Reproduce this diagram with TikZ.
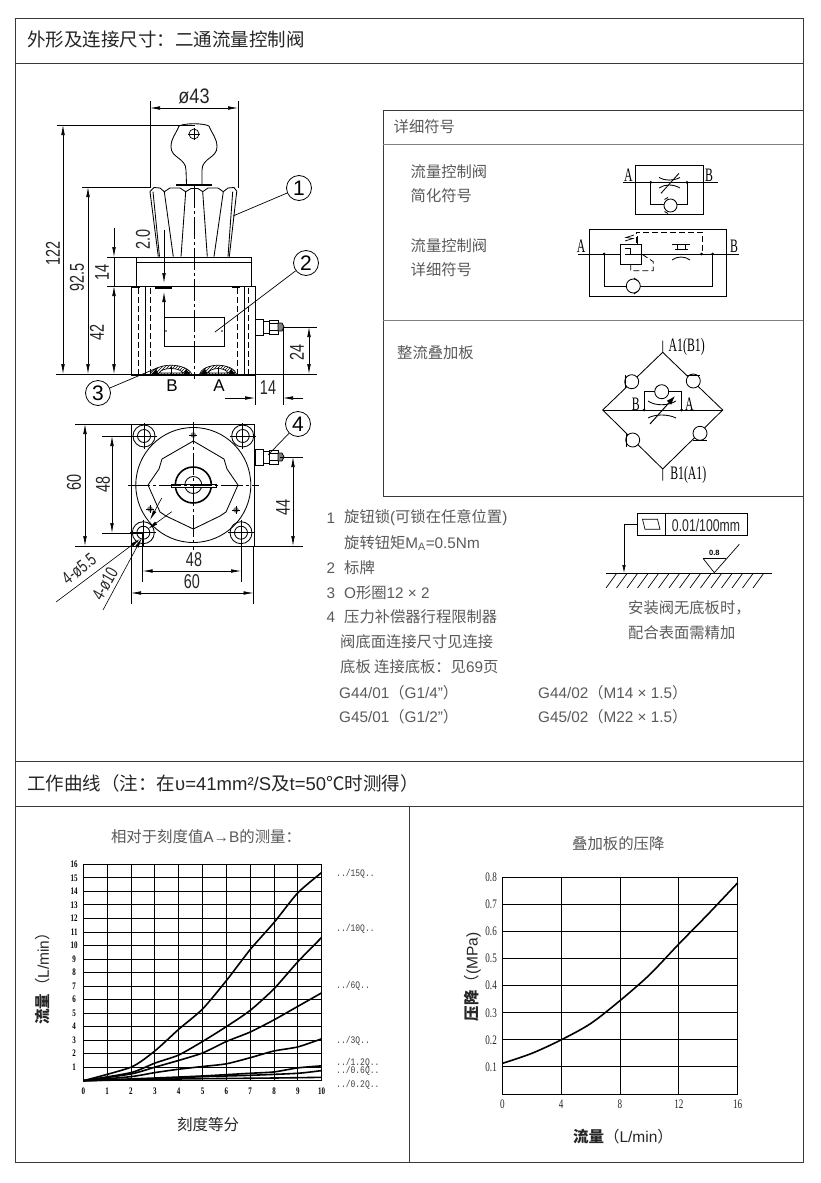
\documentclass[tikz,border=0pt]{standalone}
\usepackage{fontspec}
\setmainfont{Liberation Sans}
\newfontfamily\cjk{Noto Sans CJK SC}
\newfontfamily\dimfont[FakeStretch=0.72]{Liberation Sans}
\newfontfamily\widedimfont[FakeStretch=0.86]{Liberation Sans}
\newfontfamily\symfont[FakeStretch=0.62]{Liberation Serif}
\newfontfamily\tickfont[FakeStretch=0.7]{Liberation Serif}
\newfontfamily\curvefont[FakeStretch=0.8]{Liberation Mono}
\usetikzlibrary{arrows.meta,patterns}
\definecolor{framegray}{HTML}{3A3A3A}
\definecolor{notegray}{HTML}{5A5A5A}
\tikzset{
  frameline/.style={draw=framegray,line width=0.9pt},
  thinline/.style={line width=0.7pt},
  drawline/.style={line width=0.85pt},
  dimline/.style={line width=0.6pt,{Latex[length=10pt,width=3.6pt]}-{Latex[length=10pt,width=3.6pt]}},
  dimtip/.style={line width=0.6pt,-{Latex[length=10pt,width=3.6pt]}},
  extline/.style={line width=0.6pt},
  centerline/.style={line width=0.6pt,dash pattern=on 22pt off 3pt on 3pt off 3pt},
  hiddenline/.style={line width=0.8pt,dash pattern=on 6pt off 3pt},
  dimtext/.style={inner sep=0pt,text=black!85,font=\dimfont\fontsize{20}{20}\selectfont},
  balloon/.style={draw,circle,line width=0.8pt,minimum size=25pt,inner sep=0pt,fill=white,font=\fontsize{21}{21}\selectfont},
  headtext/.style={anchor=west,inner sep=0pt,text=black!85,font=\fontsize{18.5}{18.5}\selectfont},
  notetext/.style={anchor=west,inner sep=0pt,text=notegray,font=\fontsize{15.3}{15.3}\selectfont},
  titletext/.style={inner sep=0pt,text=notegray,font=\fontsize{15.4}{15.4}\selectfont},
  axistext/.style={inner sep=0pt,text=black!85,font=\fontsize{15.5}{15.5}\selectfont},
  symtext/.style={inner sep=0pt,font=\symfont\fontsize{19}{19}\selectfont},
  ticktext/.style={inner sep=0pt,font=\tickfont\bfseries\fontsize{10}{10}\selectfont},
  wideticktext/.style={inner sep=0pt,text=black!85,font=\tickfont\fontsize{13}{13}\selectfont},
  curvetext/.style={anchor=west,inner sep=0pt,text=black!75,font=\curvefont\fontsize{10}{10}\selectfont},
  checkv/.style={draw,circle,line width=0.85pt,fill=white,minimum size=14pt,inner sep=0pt},
  junction/.style={fill,circle,minimum size=3pt,inner sep=0pt},
  gridline/.style={line width=0.95pt},
  curveline/.style={line width=1.6pt}
}
\begin{document}
\begin{tikzpicture}[x=1pt,y=-1pt]
\useasboundingbox (0,0) rectangle (820,1183);
\fill[white] (0,0) rectangle (820,1183);

% page frame
\draw[frameline] (15,18) rectangle (803,1162);
\draw[frameline] (15,63) -- (803,63);
\draw[frameline] (15,761) -- (803,761);
\draw[frameline] (15,806) -- (803,806);
\draw[frameline] (409,806) -- (409,1162);
\draw[frameline] (383,110) rectangle (803.5,496);
\draw[frameline,draw=gray] (383,144) -- (803,144);
\draw[frameline,draw=gray] (383,320) -- (803,320);
\node[headtext] (head1) at (27,40) {\cjk 外形及连接尺寸：二通流量控制阀};
\node[headtext] (head2) at (27,783) {\cjk 工作曲线（注：在{\rmfamily υ=41mm²/S}及{\rmfamily t=50}℃时测得）};

% side view
\draw[drawline] (179,126) .. controls (176,134) and (171,138) .. (171,147) .. controls (171,158) and (186,158) .. (186,170) -- (186.5,184);
\draw[drawline] (202,184) -- (202,170) .. controls (202,158) and (217,158) .. (217,147) .. controls (217,138) and (212,134) .. (209,126);
\draw[drawline] (179,126) .. controls (185,123) and (203,123) .. (209,126);
\draw[thinline] (194,134) circle (5);
\draw[thinline] (188,134) -- (200,134) (194,128) -- (194,140);
\draw[line width=2pt] (176,184.8) -- (212,184.8);
\draw[drawline] (150,191.5) -- (154,187.5) -- (160,188) -- (164.3,191.7) -- (170,188) -- (180,188) -- (185.7,191.7) -- (191,188.5) -- (198,188.5) -- (202.7,191.7) -- (208,188) -- (218,188) -- (223.3,191.7) -- (228,188) -- (234,187.5) -- (237,191.5);
\draw[drawline] (150,191.7) -- (158.3,256.7);
\draw[drawline] (153,191.7) -- (159.5,256.7);
\draw[drawline] (164.3,191.7) -- (173.3,256.7);
\draw[drawline] (185.7,191.7) -- (181,256.7);
\draw[drawline] (202.7,191.7) -- (207.3,256.7);
\draw[drawline] (223.3,191.7) -- (214,256.7);
\draw[drawline] (236.7,191.7) -- (229.3,256.7);
\draw[drawline] (232.7,191.7) -- (228,256.7);
\draw[drawline] (136,257) rectangle (251,286);
\draw[thinline] (136,262) -- (251,262);
\draw[drawline] (131.7,286) rectangle (255,375);
\draw[drawline] (145,286) -- (145,375);
\draw[drawline] (244,286) -- (244,375);
\draw[hiddenline] (138.5,288) -- (138.5,375);
\draw[hiddenline] (150.7,288) -- (150.7,375);
\draw[hiddenline] (237,288) -- (237,375);
\draw[hiddenline] (248,288) -- (248,375);
\draw[line width=1.4pt] (132,287) -- (140,287) (155,288) -- (172,288) (232,287) -- (240,287);
\draw[drawline] (164,317.3) rectangle (224,346.7);
\fill (166,331) circle (0.9) (222,331) circle (0.9);
\draw[centerline] (194,186) -- (194,379);

% O-rings under the side view
\foreach \a/\b in {150/192,199/237}{
  \draw[thinline,pattern=north east lines] (\a,375) .. controls ({\a+4},362) and ({\b-4},362) .. (\b,375) -- cycle;
  \fill[white] ({\a+9},373) .. controls ({\a+12},367) and ({\b-12},367) .. ({\b-9},373) -- cycle;
  \draw[thinline] ({\a+9},373) .. controls ({\a+12},367) and ({\b-12},367) .. ({\b-9},373) -- cycle;
  \fill ({\a+1},375) -- ({\a+6},369) -- ({\a+9},375) -- cycle;
  \fill ({\b-1},375) -- ({\b-6},369) -- ({\b-9},375) -- cycle;
}
\draw[thinline] (171,367) -- (171,374) (218,367) -- (218,374);
\node[inner sep=0pt,font=\fontsize{17}{17}\selectfont] (portB) at (172,385.5) {B};
\node[inner sep=0pt,font=\fontsize{17}{17}\selectfont] (portA) at (219,385.5) {A};

% pressure compensator fitting, side and top view
\foreach \yy in {0,130}{
\begin{scope}[shift={(0,\yy)}]
\draw[drawline] (255,319) rectangle (263,335);
\draw[drawline] (263,321) -- (269,321) -- (269,333) -- (263,333);
\draw[drawline] (269,320) rectangle (278,334);
\draw[thinline] (269,323.5) -- (278,323.5) (269,330.5) -- (278,330.5);
\draw[drawline,fill=gray] (278,323) -- (282,323) -- (284,327) -- (282,331) -- (278,331) -- cycle;
\end{scope}
}

% dimensions of the side view
\draw[extline] (150,101) -- (150,188);
\draw[extline] (238,101) -- (238,188);
\draw[dimline] (150,108) -- (238,108);
\node[dimtext,font=\widedimfont\fontsize{21}{21}\selectfont] (dimD) at (194,96) {ø43};
\draw[extline] (57,125) -- (195,125);
\draw[extline] (82,187) -- (150,187);
\draw[extline] (56,374) -- (317,374);
\draw[dimline] (63,125) -- (63,374);
\node[dimtext,rotate=90] (dimA) at (53,253) {122};
\draw[dimline] (88,187) -- (88,374);
\node[dimtext,rotate=90] (dimB) at (77,277) {92.5};
\draw[extline] (107,257) -- (136,257);
\draw[extline] (107,286) -- (132,286);
\draw[dimtip] (114,228) -- (114,257);
\draw[dimline] (114,286) -- (114,374);
\draw[extline] (114,257) -- (114,286);
\node[dimtext,rotate=90] (dimC) at (102,272) {14};
\node[dimtext,rotate=90] (dimE) at (97,332) {42};
\draw[dimtip] (164,230) -- (164,283);
\draw[dimtip] (164,317) -- (164,292);
\node[dimtext,rotate=90] (dimF) at (143,239) {2.0};
\draw[extline] (283,327) -- (317,327);
\draw[dimline] (309,327) -- (309,374);
\node[dimtext,rotate=90] (dimG) at (297,352) {24};
\draw[extline] (255,375) -- (255,405);
\draw[extline] (283,327) -- (283,405);
\draw[dimtip] (225,398) -- (255,398);
\draw[dimtip] (303,398) -- (283,398);
\node[dimtext] (dimH) at (268,388) {14};

% top view
\draw[drawline] (131,424) rectangle (254,546);
\draw[drawline] (193.3,485) circle (57.5);
\draw[drawline] (193.3,441) -- (224,459) -- (227,469) -- (238,485) -- (226,512) -- (220,516) -- (193.3,529) -- (166,516) -- (160,512) -- (148,485) -- (159,469) -- (162,459) -- cycle;
\draw[line width=1.6pt] (193.3,485) circle (18);
\draw[drawline] (193.3,485) circle (8.5);
\draw[drawline,fill=white] (171,484) rectangle (216,487.5);
\draw[centerline] (128,485) -- (259,485);
\draw[centerline] (193.3,422) -- (193.3,550);
\foreach \bx/\by in {144/436,242.7/436,143.3/532.7,241/532.7}{
  \draw[drawline] (\bx,\by) circle (11);
  \draw[drawline] (\bx,\by) circle (6.5);
  \draw[thinline] ({\bx-13},\by) -- ({\bx+13},\by) (\bx,{\by-13}) -- (\bx,{\by+13});
}
\foreach \mx/\my in {193.3/435,150/509,236/510}{
  \fill[gray] (\mx,\my) circle (2.8);
  \draw[thinline] ({\mx-4},\my) -- ({\mx+4},\my) (\mx,{\my-4}) -- (\mx,{\my+4});
}

% dimensions of the top view
\draw[extline] (75,424) -- (131,424);
\draw[extline] (75,546) -- (303,546);
\draw[dimline] (85,424) -- (85,546);
\node[dimtext,rotate=90] (dimJ) at (74,482) {60};
\draw[extline] (102,436) -- (144,436);
\draw[extline] (102,533) -- (143,533);
\draw[dimline] (112,436) -- (112,533);
\node[dimtext,rotate=90] (dimK) at (103,484) {48};
\draw[extline] (142.7,533) -- (142.7,582);
\draw[extline] (241,533) -- (241,582);
\draw[dimline] (142.7,571) -- (241,571);
\node[dimtext] (dimL) at (194,560) {48};
\draw[extline] (131,546) -- (131,604);
\draw[extline] (253.5,546) -- (253.5,604);
\draw[dimline] (131,593) -- (253.5,593);
\node[dimtext] (dimM) at (192,582) {60};
\draw[extline] (280,457) -- (303,457);
\draw[dimline] (293,457) -- (293,546);
\node[dimtext,rotate=90] (dimN) at (283,507) {44};
\draw[dimtip] (56,602) -- (140,539);
\draw[dimtip] (171.7,511.7) -- (148,529);
\draw[dimtip] (103,610) -- (141.7,538);
\draw[dimtip] (161.7,498) -- (150,520);
\node[dimtext,rotate=38,font=\dimfont\fontsize{18}{18}\selectfont] (dimP) at (79,569) {4-ø5.5};
\node[dimtext,rotate=60,font=\dimfont\fontsize{18}{18}\selectfont] (dimQ) at (105,584) {4-ø10};

% position balloons
\coordinate (bal1end) at (233,216);
\coordinate (bal2end) at (215,332);
\coordinate (bal3end) at (157,368);
\coordinate (bal4end) at (268,455);
\node[balloon] (bal1) at (299,188) {1};
\node[balloon] (bal2) at (306,263) {2};
\node[balloon] (bal3) at (98,393) {3};
\node[balloon] (bal4) at (298,424) {4};
\draw[thinline] (bal1) -- (bal1end);
\draw[thinline] (bal2) -- (bal2end);
\draw[thinline] (bal3) -- (bal3end);
\draw[thinline] (bal4) -- (bal4end);

% symbols panel
\node[notetext] (symhead) at (393.5,127) {\cjk 详细符号};
\node[notetext] (symA) at (410.5,171.7) {\cjk 流量控制阀};
\node[notetext] (symB) at (410.5,195.7) {\cjk 简化符号};
\node[notetext] (symC) at (410.5,245.7) {\cjk 流量控制阀};
\node[notetext] (symD) at (410.5,270) {\cjk 详细符号};
\node[notetext] (symE) at (397,353) {\cjk 整流叠加板};

% simplified symbol
\draw[drawline] (635.7,165.7) rectangle (703.3,214);
\draw[drawline] (623.3,182.3) -- (717.7,182.3);
\draw[drawline] (650.7,182.3) -- (650.7,204.3) -- (664,204.3);
\draw[drawline] (687,182.3) -- (687,204.3) -- (677,204.3);
\node[checkv,minimum size=13pt] (chkA) at (670.5,205.5) {};
\draw[drawline] (668,197.5) -- (664.5,199.5) (668,213.5) -- (664.5,211.5);
\node[junction] (jA) at (650.7,182.3) {};
\node[junction] (jB) at (687,182.3) {};
\draw[drawline] (659,177.5) .. controls (665,181) and (673,181) .. (680,177.5);
\draw[drawline] (659,188) .. controls (665,184) and (673,184) .. (680,188);
\draw[drawline] (661,193.3) -- (679,173.3);
\node[symtext] (lblA) at (628.3,175.7) {A};
\node[symtext] (lblB) at (709,175.7) {B};

% detailed symbol
\draw[drawline] (589,229.3) rectangle (726,296);
\draw[drawline] (578,254) -- (739.3,254);
\draw[drawline] (604,254) -- (604,286) -- (626,286);
\draw[drawline] (712.7,254) -- (712.7,286) -- (640,286);
\node[checkv] (chkB) at (633.3,286) {};
\draw[drawline] (634,278) -- (638,281) (634,294) -- (638,291);
\draw[drawline,fill=white] (620.7,244.3) rectangle (641,264.3);
\draw[drawline] (625,248) -- (630.7,248) -- (630.7,254) (625,254) -- (641,254);
\draw[thinline] (625,241) -- (633,238.5) -- (626,237.5) -- (634,235);
\draw[thinline] (637,236) -- (637,244);
\draw[hiddenline] (636,243) -- (636,232.3) -- (702.3,232.3) -- (702.3,254);
\draw[hiddenline] (630.7,264.3) -- (630.7,270.7) -- (653.3,270.7) -- (653.3,261.7) -- (641.7,254);
\node[junction] (jC) at (604,254) {};
\node[junction] (jD) at (701.7,254) {};
\node[junction] (jE) at (712.7,254) {};
\draw[drawline] (672,244) -- (690,244);
\draw[drawline] (675,249.5) -- (688,249.5) (677,244) -- (677,249.5) (685,244) -- (685,249.5);
\draw[drawline] (672,260) .. controls (677,256) and (685,256) .. (690,260);
\node[symtext] (lblC) at (581,246.7) {A};
\node[symtext] (lblD) at (734,246.7) {B};

% rectifier plate symbol
\draw[drawline] (662.7,340.7) -- (662.7,352.3) -- (722.7,410) -- (662.7,469) -- (662.7,480.7);
\draw[drawline] (662.7,352.3) -- (602.7,410) -- (662.7,469);
\draw[drawline] (602.7,410) -- (722.7,410);
\node[checkv] (chkC) at (631.7,381.7) {};
\node[checkv] (chkD) at (693.3,381) {};
\node[checkv] (chkE) at (632.7,440) {};
\node[checkv] (chkF) at (700,433.3) {};
\draw[drawline] (625,375) -- (625,388) (687,375) -- (700,375) (626,433) -- (626,447) (693,440) -- (707,440);
\draw[drawline] (644,410) -- (644,391.7) -- (681.7,391.7) -- (681.7,410);
\node[checkv] (chkG) at (661.7,391.7) {};
\node[junction] (jF) at (644,410) {};
\node[junction] (jG) at (681.7,410) {};
\draw[drawline] (648,401) .. controls (655,406) and (668,406) .. (676,401);
\draw[drawline] (648,418) .. controls (655,414) and (668,414) .. (676,418);
\draw[line width=1pt,-{Latex[length=9pt,width=6pt]}] (650,424) -- (675,396);
\node[symtext] (lblE) at (686.7,347.3) {A1(B1)};
\node[symtext] (lblF) at (688.3,475) {B1(A1)};
\node[symtext] (lblG) at (635.7,404) {B};
\node[symtext] (lblH) at (689.3,404) {A};

% notes
\node[notetext] (note1a) at (326.5,518) {1};
\node[notetext] (note1b) at (344,518) {\cjk 旋钮锁{\rmfamily (}可锁在任意位置{\rmfamily )}};
\node[notetext] (note1c) at (344,543) {\cjk 旋转钮矩{\rmfamily M\textsubscript{A}=0.5Nm}};
\node[notetext] (note2a) at (326.5,568) {2};
\node[notetext] (note2b) at (344,568) {\cjk 标牌};
\node[notetext] (note3a) at (326.5,593) {3};
\node[notetext] (note3b) at (344,593) {O{\cjk 形圈}12 × 2};
\node[notetext] (note4a) at (326.5,617) {4};
\node[notetext] (note4b) at (344,617) {\cjk 压力补偿器行程限制器};
\node[notetext] (note5) at (340,642) {\cjk 阀底面连接尺寸见连接};
\node[notetext] (note6) at (340,667) {\cjk 底板\ 连接底板：见{\rmfamily 69}页};
\node[notetext] (note7) at (339,692.5) {G44/01{\cjk （}G1/4"{\cjk ）}};
\node[notetext] (note8) at (339,717) {G45/01{\cjk （}G1/2"{\cjk ）}};
\node[notetext] (note9) at (538,692.5) {G44/02{\cjk （}M14 × 1.5{\cjk ）}};
\node[notetext] (note10) at (538,717) {G45/02{\cjk （}M22 × 1.5{\cjk ）}};

% mounting surface
\draw[thinline] (637.3,513.3) rectangle (747.3,535);
\draw[thinline] (665,513.3) -- (665,535);
\draw[thinline] (645,529.3) -- (660,529.3) -- (657.5,519.3) -- (642.5,519.3) -- cycle;
\node[inner sep=0pt,text=black!85,font=\dimfont\fontsize{17}{17}\selectfont] (tolval) at (706,525) {0.01/100mm};
\draw[line width=0.7pt,-{Latex[length=8pt,width=3.5pt]}] (637.3,524) -- (624,524) -- (624,573);
\draw[thinline] (606,573.3) -- (771.7,573.3);
\foreach \hx in {606,616.5,...,760}{
  \draw[thinline] (\hx,588) -- ({\hx+10.7},573.3);
}
\draw[thinline] (703.3,558.7) -- (726,558.7);
\draw[thinline] (703.3,558.7) -- (714.3,572.7) -- (739.3,544.3);
\node[inner sep=0pt,font=\bfseries\fontsize{7.5}{7.5}\selectfont] (rough) at (714.3,553) {0.8};
\node[notetext] (mountA) at (628,608) {\cjk 安装阀无底板时，};
\node[notetext] (mountB) at (628,633) {\cjk 配合表面需精加};

% flow over scale value
\node[titletext] (plotAtitle) at (206,837) {\cjk 相对于刻度值{\rmfamily A→B}的测量：};
\begin{scope}[shift={(83.3,1080.7)},x=23.84pt,y=13.52pt]
\foreach \i in {0,...,10}{
  \draw[gridline] (\i,0) -- (\i,16);
  \node[ticktext] (xt\i) at (\i,-0.78) {\i};
}
\foreach \j in {0,...,16}{
  \draw[gridline] (0,\j) -- (10,\j);
}
\foreach \j in {1,...,16}{
  \node[ticktext] (yt\j) at (-0.38,\j) {\j};
}
\draw[curveline] plot[smooth,tension=0.4] coordinates {(0,0) (2,1) (3,2.2) (4,3.8) (5,5.3) (6,7.4) (7,9.7) (8,11.7) (9,13.9) (10,15.4)};
\draw[curveline] plot[smooth,tension=0.4] coordinates {(0,0) (2,0.6) (3,1.3) (4,1.9) (5,2.9) (6,4) (7,5.2) (8,6.8) (9,8.8) (10,10.6)};
\draw[curveline] plot[smooth,tension=0.4] coordinates {(0,0) (2,0.5) (3,1) (4,1.5) (5,2.05) (6,2.9) (7,3.6) (8,4.5) (9,5.5) (10,6.5)};
\draw[curveline] plot[smooth,tension=0.4] coordinates {(0,0) (2,0.3) (3,0.6) (4,0.85) (5,1.05) (6,1.25) (7,1.7) (8,2.2) (9,2.5) (10,3.1)};
\draw[curveline] plot[smooth,tension=0.4] coordinates {(0,0) (3,0.2) (5,0.35) (7,0.55) (8,0.65) (9,0.95) (10,1.1)};
\draw[curveline] plot[smooth,tension=0.4] coordinates {(0,0) (3,0.15) (5,0.3) (7,0.4) (9,0.55) (10,0.75)};
\draw[curveline] plot[smooth,tension=0.4] coordinates {(0,0) (3,0.1) (5,0.15) (8,0.2) (10,0.25)};
\end{scope}
\node[curvetext] (crvA) at (336,874) {../15Q..};
\node[curvetext] (crvB) at (336,929) {../10Q..};
\node[curvetext] (crvC) at (336,986) {../6Q..};
\node[curvetext] (crvD) at (336,1041) {../3Q..};
\node[curvetext] (crvE) at (336,1063) {../1.2Q..};
\node[curvetext] (crvF) at (336,1071) {../0.6Q..};
\node[curvetext] (crvG) at (336,1085) {../0.2Q..};
\node[axistext,rotate=90] (plotAy) at (43,975) {{\cjk\bfseries 流量}{\cjk （}L/min{\cjk ）}};
\node[axistext] (plotAx) at (208,1125) {\cjk 刻度等分};

% pressure drop of the plate
\node[titletext] (plotBtitle) at (618.3,844) {\cjk 叠加板的压降};
\begin{scope}[shift={(502.3,1094)},x=58.85pt,y=27.08pt]
\foreach \i/\lab in {0/0,1/4,2/8,3/12,4/16}{
  \draw[gridline] (\i,0) -- (\i,8);
  \node[wideticktext] (xb\i) at (\i,-0.37) {\lab};
}
\foreach \j in {0,...,8}{
  \draw[gridline] (0,\j) -- (4,\j);
}
\foreach \j in {1,...,8}{
  \node[wideticktext] (yb\j) at (-0.19,\j) {0.\j};
}
\draw[curveline] plot[smooth] coordinates {(0,1.13) (0.5,1.5) (1,2.0) (1.5,2.6) (2,3.45) (2.5,4.4) (3,5.54) (3.5,6.65) (4,7.8)};
\end{scope}
\node[axistext,rotate=90] (plotBy) at (472.7,977) {{\cjk\bfseries 压降}{\cjk （}(MPa)};
\node[axistext] (plotBx) at (623,1137) {{\cjk\bfseries 流量}{\cjk （}L/min{\cjk ）}};
\end{tikzpicture}
\end{document}
